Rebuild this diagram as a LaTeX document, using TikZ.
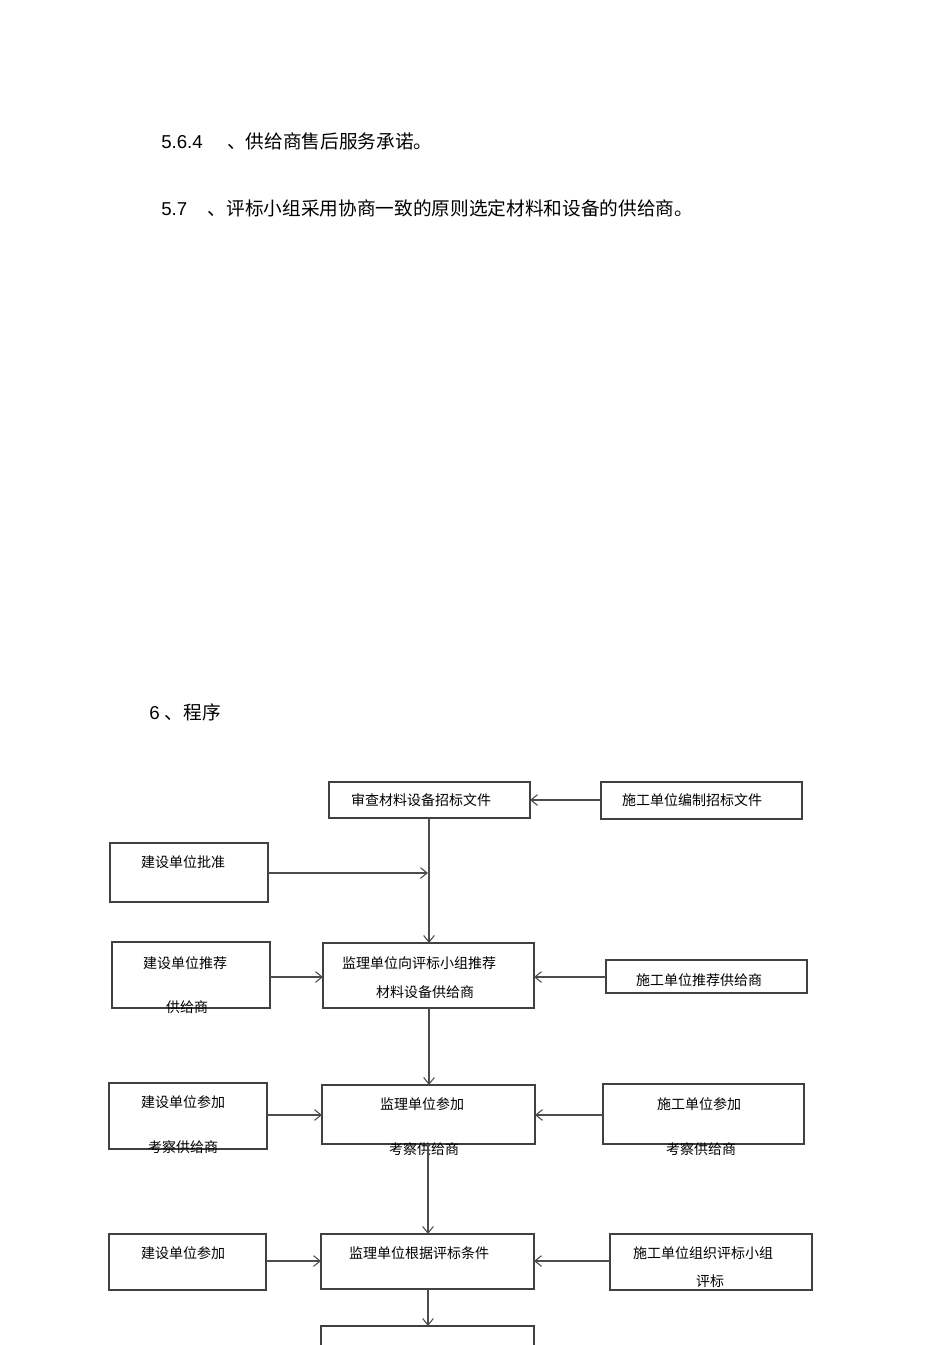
\documentclass[tikz,border=0pt]{standalone}
\usepackage{fontspec}
\setmainfont{Liberation Sans}
\newfontfamily\cjk{Noto Sans CJK SC}
\usetikzlibrary{arrows.meta}
\begin{document}
\begin{tikzpicture}[x=0.75pt,y=-0.75pt,
  bx/.style={draw=black!75,line width=0.8pt},
  tx/.style={font=\cjk\fontsize{10.5}{12}\selectfont,inner sep=0pt},
  hd/.style={font=\fontsize{14}{16}\selectfont,inner sep=0pt,anchor=west},
  ar/.style={draw=black!70,line width=0.8pt,-{Straight Barb[length=5pt,width=8pt]}}]
\useasboundingbox (0,0) rectangle (950,1345);
\node[hd] (h1) at (161,141) {5.6.4\hspace{1.3em}{\cjk 、供给商售后服务承诺。}};
\node[hd] (h2) at (161,208) {5.7\hspace{1.1em}{\cjk 、评标小组采用协商一致的原则选定材料和设备的供给商。}};
\node[hd] (h3) at (149,712) {6 {\cjk 、程序}};
% boxes
\draw[bx] (329,782) rectangle (530,818); \coordinate (A) at (429.5,800);
\node[tx] at (421,800) {审查材料设备招标文件};
\draw[bx] (601,782) rectangle (802,819);
\node[tx] at (692,800) {施工单位编制招标文件};
\draw[bx] (110,843) rectangle (268,902);
\node[tx] at (183,862) {建设单位批准};
\draw[bx] (112,942) rectangle (270,1008);
\node[tx] at (185,963) {建设单位推荐};
\node[tx] at (187,1007) {供给商};
\draw[bx] (323,943) rectangle (534,1008);
\node[tx] at (419,963) {监理单位向评标小组推荐};
\node[tx] at (425,992) {材料设备供给商};
\draw[bx] (606,960) rectangle (807,993);
\node[tx] at (699,980) {施工单位推荐供给商};
\draw[bx] (109,1083) rectangle (267,1149);
\node[tx] at (183,1102) {建设单位参加};
\node[tx] at (183,1147) {考察供给商};
\draw[bx] (322,1085) rectangle (535,1144);
\node[tx] at (422,1104) {监理单位参加};
\node[tx] at (424,1149) {考察供给商};
\draw[bx] (603,1084) rectangle (804,1144);
\node[tx] at (699,1104) {施工单位参加};
\node[tx] at (701,1149) {考察供给商};
\draw[bx] (109,1234) rectangle (266,1290);
\node[tx] at (183,1253) {建设单位参加};
\draw[bx] (321,1234) rectangle (534,1289);
\node[tx] at (419,1253) {监理单位根据评标条件};
\draw[bx] (610,1234) rectangle (812,1290);
\node[tx] at (703,1253) {施工单位组织评标小组};
\node[tx] at (710,1281) {评标};
\draw[bx] (321,1346) -- (321,1326) -- (534,1326) -- (534,1346);
% named coordinates
\coordinate (Bl) at (601,800); \coordinate (Ar) at (530,800);
\coordinate (Ab) at (429,818); \coordinate (Et) at (429,943);
\coordinate (Cr) at (268,873); \coordinate (Cm) at (428,873);
\coordinate (Dr) at (270,977); \coordinate (El) at (323,977);
\coordinate (Fl) at (606,977); \coordinate (Er) at (534,977);
\coordinate (Eb) at (429,1008); \coordinate (Ht) at (429,1085);
\coordinate (Gr) at (267,1115); \coordinate (Hl) at (322,1115);
\coordinate (Il) at (603,1115); \coordinate (Hr) at (535,1115);
\coordinate (Hb) at (428,1144); \coordinate (Kt) at (428,1234);
\coordinate (Jr) at (266,1261); \coordinate (Kl) at (321,1261);
\coordinate (Ll) at (610,1261); \coordinate (Kr) at (534,1261);
\coordinate (Kb) at (428,1289); \coordinate (Mt) at (428,1326);
\draw[ar] (Bl) -- (Ar);
\draw[ar] (Ab) -- (Et);
\draw[ar] (Cr) -- (Cm);
\draw[ar] (Dr) -- (El);
\draw[ar] (Fl) -- (Er);
\draw[ar] (Eb) -- (Ht);
\draw[ar] (Gr) -- (Hl);
\draw[ar] (Il) -- (Hr);
\draw[ar] (Hb) -- (Kt);
\draw[ar] (Jr) -- (Kl);
\draw[ar] (Ll) -- (Kr);
\draw[ar] (Kb) -- (Mt);
\end{tikzpicture}
\end{document}
